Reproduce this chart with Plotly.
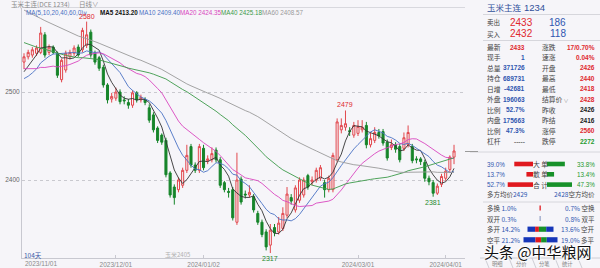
import plotly.graph_objects as go
import numpy as np

# ---------------- data ----------------
opens = [2534, 2540, 2542, 2544, 2545, 2565, 2545, 2551, 2544, 2514,
         2525, 2540, 2544, 2551, 2548, 2553, 2568, 2544, 2539, 2528,
         2508, 2492, 2493, 2500, 2491, 2488, 2485, 2499, 2491, 2491,
         2482, 2474, 2459, 2451, 2445, 2408, 2392, 2389, 2394, 2411,
         2438, 2417, 2411, 2436, 2422, 2423, 2434, 2423, 2397, 2387,
         2389, 2352, 2401, 2384, 2383, 2381, 2362, 2352, 2341, 2326,
         2346, 2341, 2345, 2360, 2380, 2366, 2377, 2383, 2405, 2398,
         2400, 2402, 2397, 2389, 2389, 2423, 2457, 2460, 2456, 2451,
         2453, 2457, 2462, 2440, 2445, 2454, 2455, 2443, 2437, 2440,
         2438, 2436, 2440, 2438, 2424, 2424, 2420, 2402, 2397, 2385,
         2395, 2402, 2412, 2426]
highs = [2544, 2548, 2551, 2553, 2574, 2568, 2554, 2553, 2546, 2538,
         2547, 2548, 2553, 2554, 2573, 2580, 2571, 2547, 2541, 2531,
         2510, 2499, 2505, 2503, 2495, 2492, 2502, 2501, 2497, 2494,
         2486, 2477, 2461, 2453, 2448, 2410, 2395, 2403, 2414, 2440,
         2441, 2420, 2441, 2440, 2428, 2437, 2437, 2426, 2399, 2391,
         2392, 2431, 2404, 2388, 2394, 2384, 2365, 2355, 2344, 2350,
         2350, 2358, 2369, 2392, 2384, 2394, 2403, 2403, 2407, 2404,
         2414, 2417, 2400, 2405, 2431, 2470, 2470, 2479, 2460, 2466,
         2468, 2468, 2466, 2454, 2460, 2458, 2458, 2446, 2446, 2443,
         2441, 2454, 2462, 2441, 2427, 2426, 2423, 2405, 2400, 2396,
         2407, 2414, 2428, 2440]
lows = [2526, 2537, 2539, 2541, 2543, 2539, 2542, 2543, 2516, 2511,
        2522, 2537, 2541, 2540, 2545, 2550, 2539, 2531, 2524, 2505,
        2487, 2488, 2490, 2486, 2486, 2481, 2482, 2488, 2488, 2485,
        2465, 2454, 2442, 2440, 2403, 2380, 2372, 2386, 2391, 2408,
        2414, 2408, 2408, 2411, 2418, 2420, 2420, 2391, 2386, 2380,
        2354, 2349, 2372, 2379, 2380, 2363, 2349, 2335, 2320, 2317,
        2336, 2338, 2342, 2357, 2372, 2363, 2374, 2380, 2389, 2394,
        2397, 2399, 2380, 2386, 2386, 2420, 2453, 2456, 2450, 2448,
        2450, 2454, 2436, 2437, 2442, 2447, 2439, 2422, 2434, 2431,
        2420, 2433, 2437, 2419, 2419, 2417, 2398, 2394, 2381, 2383,
        2392, 2399, 2409, 2418]
closes = [2540, 2545, 2548, 2550, 2567, 2542, 2551, 2545, 2519, 2536,
          2544, 2545, 2550, 2542, 2570, 2565, 2542, 2534, 2527, 2508,
          2491, 2495, 2500, 2489, 2490, 2485, 2499, 2491, 2494, 2488,
          2468, 2457, 2445, 2443, 2406, 2383, 2380, 2400, 2411, 2428,
          2417, 2411, 2438, 2414, 2424, 2430, 2423, 2394, 2389, 2386,
          2357, 2400, 2375, 2383, 2386, 2366, 2352, 2338, 2324, 2343,
          2340, 2351, 2362, 2384, 2376, 2391, 2400, 2400, 2392, 2400,
          2411, 2414, 2389, 2402, 2428, 2466, 2462, 2464, 2455, 2462,
          2461, 2460, 2440, 2447, 2454, 2450, 2442, 2425, 2440, 2435,
          2423, 2448, 2454, 2422, 2423, 2421, 2402, 2398, 2385, 2393,
          2404, 2410, 2426, 2433]
# closes before the first visible day (needed for the moving averages)
pre_closes = [2702, 2695, 2688, 2698, 2690, 2680, 2684, 2676, 2670, 2678,
              2668, 2660, 2665, 2655, 2648, 2652, 2640, 2636, 2630, 2624,
              2618, 2612, 2620, 2608, 2600, 2604, 2596, 2590, 2598, 2586,
              2580, 2585, 2575, 2570, 2578, 2566, 2560, 2565, 2556, 2550,
              2548, 2552, 2542, 2538, 2545, 2535, 2530, 2538, 2528, 2522,
              2518, 2510, 2505, 2498, 2506, 2512, 2520, 2515, 2528]

ma_periods = [5, 10, 20, 40, 60]
ma_names = ["MA5", "MA10", "MA20", "MA40", "MA60"]
ma_header_values = ["2413.20", "2409.40", "2424.35", "2425.18", "2408.57"]
ma_colors = ["#333333", "#4a72c4", "#d946c0", "#3c9a4a", "#9a9a9a"]

tick_idx = [22, 43, 80, 101]
tick_text = ["2023/12/01", "2024/01/02", "2024/03/01", "2024/04/01"]
first_date_label = "2023/11/01"
y_ticks = [2400, 2500]

quote_rows = [
    ("最新", "2433", "涨跌", "17/0.70%"),
    ("现手", "1", "速涨", "0.04%"),
    ("总量", "371726", "开盘", "2426"),
    ("持仓", "689731", "最高", "2440"),
    ("日增", "-42681", "最低", "2418"),
    ("外盘", "196063", "结算价", "2428"),
    ("比例", "52.7%", "昨收", "2426"),
    ("内盘", "175663", "昨结", "2416"),
    ("比例", "47.3%", "涨停", "2560"),
    ("杠杆", "-----", "跌停", "2272"),
]
RED, BLUE, BLACK, GREEN, GRAY = "#e0282e", "#2f55b0", "#222222", "#1f9a2e", "#777777"
quote_col1_colors = [RED, BLUE, BLUE, BLUE, BLUE, BLUE, BLUE, BLUE, BLUE, GRAY]
quote_col2_colors = [RED, RED, RED, RED, RED, RED, BLACK, BLACK, RED, GREEN]

order_labels = ["大 单", "散 单", "合 计"]
order_buy = [39.0, 13.7, 52.7]
order_sell = [33.8, 13.4, 47.3]

flow_left = [("多换", "1.0%"), ("双开", "0.3%"), ("多开", "14.2%"), ("空平", "21.2%")]
flow_right = [("0.7%", "空换"), ("0.8%", "双平"), ("13.6%", "空开"), ("19.0%", "多平")]
flow_segments = [[], [], [14.2, 7.0, 13.6, 13.6], [21.2, 10.0, 10.0, 19.0]]
tabs = ["明细", "分价", "分笔", "统计"]

# ---------------- figure ----------------
W, H = 600, 268
BG = "#f6f5f9"
CJK = "Noto Sans CJK SC"
LAT = "Liberation Sans"

n = len(closes)
idx = list(range(n))
full = np.array(pre_closes + closes, dtype=float)
off = len(pre_closes)

fig = go.Figure()
fig.add_trace(go.Candlestick(
    x=idx, open=opens, high=highs, low=lows, close=closes,
    increasing=dict(line=dict(color="#e2474d", width=1), fillcolor=BG),
    decreasing=dict(line=dict(color="#16852a", width=1), fillcolor="#16852a"),
    whiskerwidth=0, showlegend=False, hoverinfo="skip"))

for p, c in zip(ma_periods, ma_colors):
    ma = [full[off + i - p + 1: off + i + 1].mean() for i in idx]
    fig.add_trace(go.Scatter(x=idx, y=ma, mode="lines",
                             line=dict(color=c, width=0.9), showlegend=False,
                             hoverinfo="skip"))


def px(x):
    return x / W


def py(y):
    return 1 - y / H


ann = []


def T(x, y, text, size=7.5, color="#444", anchor="left", family=CJK, bold=False):
    if bold:
        text = "<b>" + text + "</b>"
    ann.append(dict(x=px(x), y=py(y), xref="paper", yref="paper", text=text,
                    showarrow=False, xanchor=anchor, yanchor="middle",
                    font=dict(size=size, color=color, family=family)))


# header
T(9, 3.5, "玉米主连(DCE 1234)", 6.5, "#8a8a8a")
T(77, 3.5, "日线∨", 6.5, "#8a8a8a")
T(24, 12.5, "MA(5,10,20,40,60,0)∨", 6.3, "#4a72c4", family=LAT)
hx = [98, 137, 178, 219, 260]
for x0, nm, v, c in zip(hx, ma_names, ma_header_values, ma_colors):
    T(x0, 12.5, nm + " " + v, 6.3, "#111" if nm == "MA5" else c, family=LAT, bold=(nm == "MA5"))

# hi/lo labels
hi_i = int(np.argmax(highs))
lo_i = int(np.argmin(lows))
hi2_i = 60 + int(np.argmax(highs[60:]))
lo2_i = 90 + int(np.argmin(lows[90:]))
for i, up in [(hi_i, True), (hi2_i, True), (lo_i, False), (lo2_i, False)]:
    val = highs[i] if up else lows[i]
    ann.append(dict(x=i, y=val, xref="x", yref="y", text=str(val), showarrow=False,
                    xanchor="center", yanchor="bottom" if up else "top",
                    yshift=0, font=dict(size=7, color="#e0282e" if up else "#1f8a2e", family=LAT)))

# bottom texts
T(22, 254.5, "104天", 6.5, "#3a5aa8")
T(163, 254.5, "玉米2405", 6, "#b0b0b0")
T(22.5, 263.5, first_date_label, 6.5, "#8a8a8a", family=LAT)

# right panel
T(485, 7, "玉米主连", 8.5, "#2f4f9a")
T(522, 7, "1234", 9.5, "#2f4f9a", family=LAT)
T(485, 22, "卖出", 6.5, "#444")
T(535, 22, "2433", 10, RED, anchor="right", family=LAT)
T(568, 22, "186", 10, BLUE, anchor="right", family=LAT)
T(485, 33.5, "买入", 6.5, "#444")
T(535, 33.5, "2432", 10, RED, anchor="right", family=LAT)
T(568, 33.5, "118", 10, BLUE, anchor="right", family=LAT)

for k, (l1, v1, l2, v2) in enumerate(quote_rows):
    y = 47 + 10.45 * k
    T(485, y, l1, 6.8, "#444")
    T(527, y, v1, 6.5, quote_col1_colors[k], anchor="right", family=LAT, bold=True)
    T(540, y, l2 + ("<span style='font-size:5px;color:#999'> ∨</span>" if l2 == "结算价" else ""), 6.8, "#444")
    T(597, y, v2, 6.5, quote_col2_colors[k], anchor="right", family=LAT, bold=True)

shapes = []


def hline(y, x0, x1, color="#d6d6dc", width=1, dash="solid"):
    shapes.append(dict(type="line", xref="paper", yref="paper", x0=px(x0), x1=px(x1),
                       y0=py(y), y1=py(y), line=dict(color=color, width=width, dash=dash)))


def rect(x0, x1, y0, y1, color):
    shapes.append(dict(type="rect", xref="paper", yref="paper", x0=px(x0), x1=px(x1),
                       y0=py(y1), y1=py(y0), line=dict(width=0), fillcolor=color))


hline(14.5, 483, 600)
hline(40.5, 483, 600)
hline(152, 470, 600)
hline(202, 483, 600)
hline(7.5, 22, 465, "#d8d8de")
hline(151.5, 465, 478, "#9a9a9a")

scale = 0.48
for k, (lab, b, s) in enumerate(zip(order_labels, order_buy, order_sell)):
    y = 164 + 10.3 * k
    T(485, y, f"{b:.1f}%", 6.3, BLUE, family=LAT)
    rect(533 - b * scale, 533, y - 2.3, y + 2.3, "#e0191f")
    T(540, y, lab, 6.8, "#444", anchor="center")
    rect(547, 547 + s * scale * 1.1, y - 2.3, y + 2.3, "#17912a")
    T(597, y, f"{s:.1f}%", 6.3, GREEN, anchor="right", family=LAT)
T(485, 194, "多方均价<span style='color:#2f55b0'>2429</span>", 6.5, "#444")
T(597, 194, "<span style='color:#2f55b0'>2428</span>空方均价", 6.5, "#444", anchor="right")

seg_cols = ["#1636b8", "#e0191f", "#17912a", "#1636b8"]
for k, ((l, lv), (rv, r)) in enumerate(zip(flow_left, flow_right)):
    y = 208 + 10.6 * k
    T(485, y, l + " <span style='color:#2f55b0'>" + lv + "</span>", 6.5, "#444")
    T(597, y, "<span style='color:#2f55b0'>" + rv + "</span> " + r, 6.5, "#444", anchor="right")
    segs = flow_segments[k]
    if not segs:
        rect(539.5, 540.8, y - 2.5, y + 2.5, "#e0191f" if k == 0 else "#9aa6c8")
    else:
        tot = sum(segs)
        width = 26 if k == 2 else 34
        x = 540.5 - width / 2
        for sv, col in zip(segs, seg_cols):
            w = sv / tot * width
            rect(x, x + w, y - 2.6, y + 2.6, col)
            x += w

for tx, t in zip([497, 521, 544, 567], tabs):
    T(tx, 264.2, t, 5.3, "#888", anchor="center")
for tx in [485, 509, 532, 555, 578]:
    shapes.append(dict(type="line", xref="paper", yref="paper", x0=px(tx), x1=px(tx + 4),
                       y0=py(258), y1=py(268), line=dict(color="#c4c4cc", width=0.8)))
hline(258, 480, 600, "#c4c4cc", 0.8)

# watermark
ann.append(dict(x=px(538), y=py(251), xref="paper", yref="paper",
                text="头条 @中华粮网", showarrow=False, xanchor="center", yanchor="middle",
                font=dict(size=15, color="#111", family=CJK,
                          shadow="0px 0px 2px white, 1px 1px 1px white, -1px -1px 1px white")))

x0_px, x1_px = 22, 465
ppu = 4.175
r0 = -(24 - x0_px) / ppu
r1 = r0 + (x1_px - x0_px) / ppu
ytop_px, ybot_px = 8, 258
y_hi = 2500 + (92 - ytop_px) / 0.88
y_lo = 2500 - (ybot_px - 92) / 0.88

fig.update_layout(
    width=W, height=H, margin=dict(l=0, r=0, t=0, b=0),
    paper_bgcolor=BG, plot_bgcolor=BG,
    annotations=ann, shapes=shapes,
    xaxis=dict(domain=[px(x0_px), px(x1_px)], range=[r0, r1], rangeslider=dict(visible=False),
               tickvals=tick_idx, ticktext=tick_text, showgrid=False, zeroline=False,
               showline=True, linecolor="#c8c8d0", linewidth=1,
               ticks="inside", ticklen=3, tickcolor="#c8c8d0",
               tickfont=dict(size=6.5, color="#8a8a8a", family=LAT)),
    yaxis=dict(domain=[(H - ybot_px) / H, (H - ytop_px) / H], range=[y_lo, y_hi],
               tickvals=y_ticks, ticktext=[str(v) for v in y_ticks],
               showgrid=True, gridcolor="#c9c9cf", griddash="dot", gridwidth=1,
               zeroline=False, showline=True, linecolor="#c8c8d0", linewidth=1,
               ticks="", tickfont=dict(size=6.5, color="#666", family=LAT)),
)

fig.write_html("out.html")
